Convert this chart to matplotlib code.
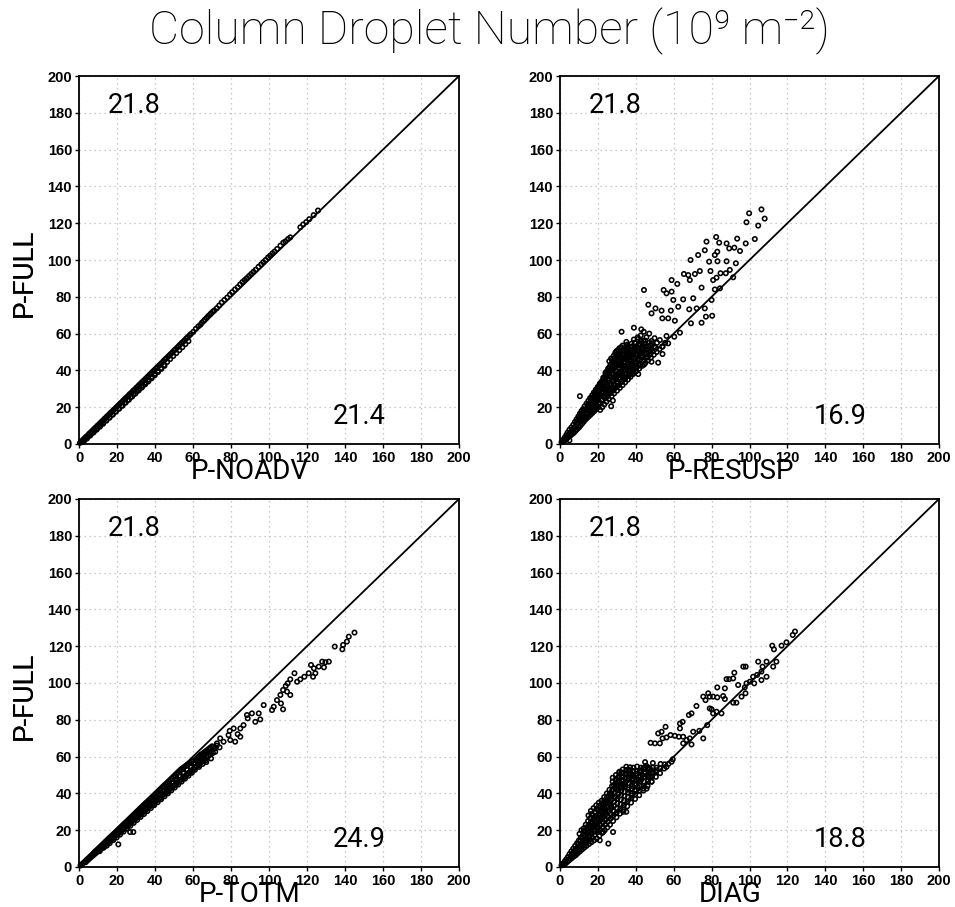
import matplotlib
matplotlib.use("Agg")
import matplotlib.pyplot as plt

# ---------------- data ----------------
title = "Column Droplet Number (10⁹ m⁻²)"
y_label = "P-FULL"
x_labels = ["P-NOADV", "P-RESUSP", "P-TOTM", "DIAG"]
full_values = ["21.8", "21.8", "21.8", "21.8"]
other_values = ["21.4", "16.9", "24.9", "18.8"]
ticks = [0, 20, 40, 60, 80, 100, 120, 140, 160, 180, 200]
diag = [0, 200]

# Panel 1: P-NOADV (x) vs P-FULL (y)
x1 = [0.5,1.3,2.1,2.8,3.6,4.5,5.2,6.0,6.9,7.6,8.4,9.3,10.0,10.9,11.7,12.4,13.3,14.1,14.8,15.7,16.5,17.2,18.1,18.9,19.6,20.5,21.3,22.0,22.9,23.7,24.4,25.3,26.1,26.8,27.7,28.5,29.2,30.1,30.9,31.6,32.5,33.3,34.0,34.9,35.7,36.4,37.3,38.1,38.8,39.7,40.5,41.2,42.1,42.9,43.6,44.5,45.3,46.0,46.9,47.7,48.4,49.3,50.1,50.8,51.7,52.5,53.2,54.1,54.9,55.6,56.5,57.3,58.1,58.9,
      1.8,3.3,4.9,6.4,8.0,9.6,11.2,12.8,14.4,16.0,17.6,19.2,20.8,22.4,24.0,25.6,27.2,28.8,30.4,32.0,33.6,35.2,36.8,38.4,40.0,41.6,43.2,44.8,46.4,48.0,49.6,51.2,52.8,54.4,56.0,57.6,
      60.2,61.5,62.8,63.9,64.7,65.6,66.3,67.2,68.0,68.9,69.5,70.4,71.2,72.5,73.8,75.1,76.5,78.0,79.4,80.6,82.1,83.5,84.8,86.0,87.2,88.3,89.5,90.6,91.8,93.0,94.5,95.9,97.0,98.2,99.5,100.6,101.8,102.9,104.3,106.0,107.5,108.6,110.0,111.2,116.5,118.0,119.6,121.2,123.5,125.8]
y1 = [0.6,1.5,2.2,3.0,3.8,4.6,5.4,6.2,7.0,7.8,8.6,9.5,10.2,11.1,11.9,12.6,13.6,14.3,15.1,15.9,16.8,17.4,18.4,19.1,19.9,20.8,21.6,22.3,23.2,24.0,24.8,25.6,26.4,27.2,28.0,28.9,29.5,30.5,31.2,32.0,32.9,33.7,34.4,35.3,36.1,36.8,37.8,38.5,39.3,40.2,41.0,41.7,42.6,43.4,44.1,45.1,45.9,46.6,47.5,48.3,49.0,50.0,50.8,51.5,52.4,53.2,54.0,54.9,55.6,56.4,57.4,58.1,59.0,59.8,
      1.2,2.6,4.1,5.5,7.0,8.5,10.0,11.6,13.1,14.6,16.2,17.7,19.3,20.8,22.4,23.9,25.5,27.1,28.7,30.2,31.8,33.3,35.0,36.5,38.2,39.8,41.3,43.0,44.6,46.2,47.8,49.4,51.0,52.6,54.3,55.9,
      61.0,62.6,63.9,64.8,65.9,66.8,67.6,68.5,69.5,70.3,71.0,71.9,72.6,73.8,75.3,76.9,78.3,79.6,81.2,82.5,84.0,85.2,86.7,88.0,89.1,90.1,91.3,92.4,93.6,94.7,96.3,97.6,98.8,100.0,101.4,102.4,103.6,104.6,106.0,107.8,109.4,110.1,111.4,112.3,117.8,119.3,120.6,122.2,124.4,126.9]
x1_extra = [2.5,4.2,5.9,7.6,9.3,11.0,12.7,14.4,16.1,17.8,19.5,21.2,22.9,24.6,26.3,28.0,29.7,31.4,33.1,34.8,36.5,38.2,39.9,41.6,43.3,45.0]
y1_extra = [1.4,3.0,4.6,6.2,7.8,9.4,11.0,12.7,14.3,15.9,17.6,19.2,20.8,22.5,24.1,25.8,27.4,29.1,30.7,32.4,34.0,35.7,37.4,39.1,40.8,42.5]

# Panel 2: P-RESUSP (x) vs P-FULL (y)
x2 = [0.8,1.5,1.9,2.5,2.8,3.3,3.5,4.0,4.2,4.6,5.0,5.3,5.6,6.0,6.2,6.6,7.0,7.2,7.5,7.9,8.1,8.4,8.8,9.0,9.3,9.7,10.0,10.2,10.5,10.8,11.0,11.4,11.6,11.8,12.2,12.4,12.6,13.0,13.2,13.4,13.6,14.0,14.2,14.4,14.6,15.0,15.2,15.4,15.6,15.9,16.2,16.4,16.6,17.0,17.2,17.4,17.6,17.9,18.2,18.4,18.6,18.9,19.2,19.4,19.6,19.9,20.2,20.4,20.6,20.9,21.2,21.4,21.6,21.8,22.0,22.3,22.5,22.7,22.9,23.1,23.4,23.6,23.8,24.0,24.2,24.5,24.7,24.9,25.1,25.3,25.4,25.7,25.9,26.1,26.3,26.5,26.7,27.0,27.2,27.4,27.6,27.8,28.0,28.2,28.4,28.6,28.8,29.0,29.2,29.4,29.6,29.8,30.1,30.3,30.5,30.7,30.9,31.1,31.3,31.6,31.8,32.0,32.2,32.4,32.6,33.0,33.2,33.4,33.6,33.8,34.0,34.4,34.6,34.8,35.0,35.2,35.4,35.8,36.0,36.2,36.4,36.6,37.2,37.4,37.6,37.8,38.0,38.6,38.8,39.0,39.2,39.4,40.2,40.4,40.6,40.8,41.0,41.8,42.0,42.2,42.4,42.6,43.4,43.6,43.8,44.0,44.2,45.0,45.2,45.4,45.6,46.5,46.7,46.9,47.1,48.0,48.2,48.4,49.5,49.7,49.9,51.0,51.2,52.5,52.7,54.0,55.5,
      8.6,9.5,10.4,11.2,12.0,12.8,13.7,14.5,14.9,15.8,16.5,16.9,17.8,18.3,18.7,19.5,19.8,20.4,20.8,21.0,21.9,22.0,22.2,23.0,23.2,23.4,24.0,24.3,24.6,24.8,25.0,25.5,25.7,26.0,26.2,26.4,26.8,27.0,27.3,27.5,27.9,28.0,28.2,28.4,28.6,28.9,29.2,29.4,29.6,29.9,30.1,30.4,30.6,30.9,31.2,31.5,31.7,32.0,32.3,32.6,32.9,33.2,33.5,33.8,34.2,34.5,34.8,35.1,35.4,35.9,36.2,36.6,36.9,37.4,37.7,38.0,38.4,38.9,39.2,39.6,40.0,40.5,40.9,41.4,41.8,42.3,42.8,43.3,44.2,44.6,45.1,46.0,46.4,47.5,47.9,49.0,50.4,
      106.3,99.8,108.0,98.4,104.6,102.8,98.0,93.5,82.4,77.3,84.0,87.9,92.0,89.3,95.0,83.0,81.7,76.4,72.9,68.9,78.7,83.1,87.9,92.8,89.6,87.5,84.7,79.4,73.8,71.2,65.4,67.7,68.5,82.6,80.8,91.4,61.9,58.9,84.4,81.7,74.7,44.3,54.7,56.2,58.9,59.8,65.0,70.3,62.4,68.2,72.1,76.4,80.0,77.0,80.3,74.7,69.1,63.3,46.6,50.4,53.6,58.5,48.3,54.0,57.1,60.6,32.5,39.0,42.9,51.8,48.3,41.3,54.1,54.1,57.1,60.3,56.2,10.5,5.0]
y2 = [1.0,2.2,1.2,3.5,2.0,4.8,2.8,6.2,3.6,5.0,7.8,4.4,6.3,9.0,5.2,7.4,10.5,6.0,8.5,12.0,7.0,9.6,13.5,8.0,11.0,15.0,9.0,12.5,16.5,10.0,14.0,18.0,11.0,15.5,19.0,12.0,17.0,20.5,13.0,15.0,18.5,22.0,14.0,16.5,20.0,23.5,15.0,18.0,21.5,25.0,16.0,19.0,23.0,26.5,17.0,20.5,24.5,28.0,18.0,22.0,26.0,29.5,19.0,23.5,27.5,31.0,20.0,25.0,29.0,32.5,18.5,22.0,26.5,30.5,34.0,20.0,24.0,28.0,32.0,35.5,21.5,26.0,30.0,33.5,37.0,23.0,27.5,31.5,35.0,38.5,41.0,24.5,29.0,33.0,37.0,40.0,43.0,20.5,26.0,30.5,34.5,38.5,42.0,45.0,48.0,27.5,32.0,36.0,40.0,44.0,47.5,50.5,29.0,33.5,37.5,41.5,45.5,49.0,52.0,30.5,35.0,39.0,43.0,47.0,50.5,32.0,36.5,40.5,44.5,48.5,52.0,33.5,38.0,42.0,46.0,50.0,54.0,35.0,39.5,43.5,47.5,51.5,36.5,41.0,45.0,49.0,53.0,38.0,42.5,46.5,50.5,55.0,39.5,44.0,48.0,52.5,57.0,41.0,45.5,50.0,54.5,59.0,42.5,47.0,52.0,56.0,61.0,44.0,48.5,53.0,58.0,45.5,50.0,55.0,60.0,47.0,51.5,56.0,48.5,53.0,57.5,50.0,55.0,51.5,56.5,53.0,55.0,
      11.2,13.0,14.5,16.2,13.6,18.4,16.8,18.4,21.6,19.8,24.6,21.4,22.6,27.0,24.0,29.2,25.6,21.8,27.0,31.0,24.0,28.2,33.0,26.2,30.4,34.6,28.6,32.4,36.4,39.6,25.8,30.6,34.8,38.6,41.8,27.6,32.0,36.2,40.4,44.6,23.6,29.0,33.8,38.0,42.4,46.4,49.6,30.6,35.0,39.4,43.6,47.4,51.0,31.8,36.0,40.6,44.8,48.6,52.6,34.0,38.2,42.6,46.6,50.4,36.0,40.0,44.2,48.2,52.2,37.4,41.6,45.6,49.6,39.0,43.2,47.4,51.4,40.4,44.6,48.6,53.0,42.0,46.0,50.2,54.6,43.6,48.0,52.4,45.2,49.6,54.6,47.0,51.6,48.6,53.4,50.6,52.4,
      127.5,125.4,122.5,120.5,118.7,111.4,109.0,111.6,112.5,110.0,109.4,109.0,106.7,106.3,104.9,104.5,102.7,105.3,102.7,100.0,99.1,99.3,99.3,98.2,94.6,92.8,92.8,94.0,94.0,92.4,92.4,91.8,89.1,90.4,89.1,90.6,87.0,89.1,84.6,84.0,85.0,83.7,83.7,81.9,82.8,78.3,78.6,79.2,74.6,73.2,73.7,73.7,78.3,69.2,69.7,65.9,65.6,60.5,75.7,73.7,72.5,72.5,71.0,68.3,68.3,67.0,61.0,63.2,62.3,44.2,44.7,38.0,48.9,52.9,54.7,58.3,58.7,26.0,2.0]
x2_extra = [15.2,16.0,16.8,17.5,18.0,18.8,19.2,20.0,20.6,21.2,21.8,22.4,22.8,23.5,24.0,24.6,25.2,25.8,26.3,26.9,27.3,27.8,28.3,28.8,29.3,29.8,30.2,30.8,31.3,31.8,32.2,32.8,33.3,33.8,34.3,34.8,35.3,35.8,36.3,36.8,37.3,37.8,38.3,38.8,39.3,39.9,40.4,41.0,41.5,42.0,42.6,43.2,43.8,44.4,45.0,45.8,46.5,47.5,48.5,27.0,29.0,31.0,33.0,35.0,37.0,39.0,41.0,43.0,20.0,22.0,24.0,26.0,28.0,30.0,32.0,34.0,36.0,38.0,40.0]
y2_extra = [20.0,22.6,18.2,25.4,21.0,27.8,24.8,30.2,22.6,33.0,27.8,31.4,36.0,25.2,38.8,29.6,35.6,27.4,42.0,32.8,38.0,46.0,30.0,42.8,36.6,48.6,31.4,45.2,38.8,50.0,33.8,46.4,41.6,51.2,35.2,46.8,40.8,52.8,37.0,49.8,43.0,54.6,38.6,47.0,52.2,41.0,49.0,45.4,53.6,42.6,56.0,47.4,51.2,43.2,56.2,49.2,53.2,50.6,54.8,46.5,44.0,47.5,53.5,55.5,46.2,56.8,58.0,50.5,29.0,33.0,37.5,45.0,40.5,43.0,44.5,47.0,49.0,51.0,44.8]

# Panel 3: P-TOTM (x) vs P-FULL (y)
x3 = [0.8,1.6,2.4,3.2,3.5,4.0,4.5,4.8,5.4,5.6,6.3,6.4,7.2,7.2,8.0,8.1,8.8,9.0,9.6,9.9,10.4,10.8,10.9,11.2,11.7,12.0,12.5,12.8,13.0,13.3,13.6,14.2,14.4,14.6,15.1,15.2,16.0,16.0,16.2,16.8,16.9,17.6,17.8,18.0,18.4,18.7,19.2,19.6,19.8,20.0,20.5,20.8,21.4,21.6,21.6,22.3,22.4,23.2,23.2,23.4,24.0,24.1,24.8,25.0,25.2,25.6,25.9,26.4,26.8,27.0,27.2,27.7,28.0,28.6,28.8,28.8,29.5,29.6,30.4,30.4,30.6,31.2,31.3,32.0,32.2,32.4,32.8,33.1,33.6,34.0,34.2,34.4,34.9,35.2,35.8,36.0,36.0,36.7,36.8,37.6,37.6,37.8,38.4,38.5,39.2,39.4,39.6,40.0,40.3,40.8,41.2,41.4,41.6,42.1,42.4,43.0,43.2,43.2,43.9,44.0,44.8,44.8,45.0,45.6,45.7,46.4,46.6,46.8,47.2,47.5,48.0,48.4,48.6,48.8,49.3,49.6,50.2,50.4,50.4,51.1,51.2,52.0,52.0,52.2,52.8,52.9,53.6,53.8,54.0,54.4,54.7,55.2,55.6,55.8,56.0,56.5,56.8,57.4,57.6,57.6,58.3,58.4,59.2,59.2,59.4,60.0,60.1,61.0,61.0,61.6,61.9,62.4,62.8,63.2,63.2,63.7,64.0,64.6,65.0,65.0,65.5,66.0,66.4,67.0,67.3,67.0,68.0,68.2,69.0,69.1,70.0,
      10.0,12.2,14.0,15.8,17.5,19.3,21.0,22.8,24.5,26.2,28.0,29.8,31.6,33.4,35.2,37.0,38.8,40.6,42.4,44.2,46.0,47.8,49.6,51.4,53.2,55.0,56.8,58.6,60.4,62.2,64.0,65.8,67.6,31.0,35.0,39.0,43.0,47.0,51.0,55.0,59.0,63.0,66.5,69.5,70.5,71.5,72.5,74.0,
      145.0,142.0,141.0,139.0,138.6,134.6,131.5,129.7,128.0,128.9,126.2,122.1,123.6,124.4,123.2,120.9,118.6,116.5,114.8,113.4,111.2,109.8,108.8,107.4,109.5,111.2,106.0,104.2,106.3,107.4,101.6,102.5,97.2,94.6,91.0,88.4,88.8,92.8,95.4,86.6,84.9,81.4,79.3,78.7,83.5,84.9,82.2,79.6,76.1,74.3,72.6,70.8,69.1,71.7,67.3,64.7,20.7,26.9,28.6]
y3 = [0.8,1.5,2.3,3.0,2.6,3.9,3.6,4.6,4.5,5.4,5.3,6.2,6.1,7.0,7.9,6.9,8.7,7.7,9.4,8.5,10.2,9.2,8.6,11.0,10.0,11.8,10.8,12.6,10.5,11.6,13.4,12.4,14.2,11.6,13.2,15.0,14.0,15.8,13.0,16.5,14.8,17.3,15.6,14.6,18.1,16.4,18.9,17.2,16.0,19.7,18.0,20.5,18.8,21.3,17.6,19.6,22.1,20.4,22.9,19.2,23.7,21.2,24.4,22.0,20.8,25.2,22.8,26.0,23.6,22.4,26.8,24.4,27.6,25.2,24.0,28.4,26.0,29.2,26.8,30.0,25.6,30.8,27.6,31.6,28.4,27.2,32.4,29.2,33.2,30.0,28.8,34.0,30.8,34.8,31.6,35.5,30.4,32.4,36.3,33.2,37.1,32.0,37.9,34.0,38.7,34.8,33.6,39.5,35.6,40.3,36.4,35.2,41.1,37.2,41.9,38.0,36.8,42.7,38.8,43.5,44.3,39.6,38.4,45.0,40.4,45.8,41.2,40.0,46.6,42.0,47.4,42.8,41.6,48.2,43.6,49.0,44.4,43.2,49.8,45.2,50.6,51.4,46.0,44.8,52.2,46.8,53.0,47.6,46.4,53.6,48.4,54.2,49.2,48.0,54.8,50.0,55.4,50.8,49.6,56.0,51.6,56.6,57.2,52.4,51.2,57.8,53.2,54.0,52.8,58.6,54.8,59.4,55.6,54.4,60.2,56.4,61.0,57.2,56.0,61.6,58.0,62.4,58.8,63.2,59.6,57.0,64.0,60.4,64.8,61.2,65.6,
      9.6,11.3,13.0,14.6,16.0,17.8,19.4,21.0,22.6,24.2,25.8,27.4,29.2,30.8,32.4,34.0,35.8,37.6,39.4,41.0,42.6,44.4,46.2,47.8,49.6,51.4,53.0,54.6,56.2,57.8,59.4,60.8,62.2,28.0,31.0,34.2,37.6,41.0,44.6,48.6,52.0,55.2,57.8,59.0,62.0,64.5,66.0,65.0,
      127.4,125.2,122.5,120.7,118.3,119.8,111.6,111.3,111.6,108.5,108.9,109.8,108.0,105.3,103.4,105.3,103.4,102.0,100.7,105.3,102.0,99.8,98.4,96.2,95.3,93.5,93.5,90.7,88.9,85.7,85.3,87.1,88.0,83.5,83.5,82.6,80.8,78.9,80.2,77.1,75.3,75.3,74.0,71.7,72.2,70.8,68.1,69.0,68.1,69.9,67.2,65.3,64.4,62.6,62.6,60.8,12.3,19.0,19.0]
x3_extra = [15.0,19.0,23.0,27.0,31.0,35.0,39.0,43.0,47.0,51.0,55.0,59.0,63.0,67.0,21.0,25.0,29.0,33.0,37.0,41.0,45.0,49.0,53.0,57.0,61.0,65.0]
y3_extra = [13.8,17.4,21.0,24.6,28.8,32.2,36.0,39.6,43.2,46.8,50.8,54.2,57.6,60.2,19.6,23.2,27.0,30.2,34.6,38.2,41.8,45.4,49.0,52.8,56.4,59.0]

# Panel 4: DIAG (x) vs P-FULL (y)
x4 = [0.8,1.5,2.0,2.5,3.0,3.3,3.8,4.2,4.6,5.0,5.4,5.8,6.0,6.4,6.8,7.0,7.4,7.8,8.0,8.4,8.8,9.0,9.4,9.8,10.0,10.3,10.5,10.8,11.0,11.3,11.6,11.9,12.2,12.5,12.8,13.0,13.3,13.6,14.0,14.2,14.5,14.8,15.0,15.3,15.5,15.8,16.0,16.3,16.6,16.8,17.1,17.4,17.7,18.0,18.2,18.5,18.8,19.1,19.4,19.6,19.9,20.2,20.5,20.8,21.0,21.3,21.6,21.9,22.2,22.4,22.7,23.0,23.3,23.6,23.8,24.1,24.4,24.7,25.0,25.2,25.5,25.8,26.1,26.4,26.6,26.9,27.2,27.5,27.8,28.0,28.3,28.6,28.9,29.2,29.5,29.8,30.0,30.3,30.6,30.9,31.2,31.6,31.9,32.2,32.5,32.8,33.1,33.5,33.8,34.1,34.4,34.7,35.0,35.5,35.8,36.1,36.4,36.7,37.5,37.8,38.1,38.4,38.7,39.6,39.9,40.2,40.5,41.8,42.1,42.4,42.7,44.0,44.3,44.6,44.9,46.2,46.5,46.8,48.4,48.7,49.0,50.6,50.9,52.8,53.1,55.0,57.2,59.5,
      6.6,7.6,8.2,9.1,9.6,10.4,10.9,11.7,12.0,12.4,12.9,13.4,13.8,14.3,14.6,15.0,15.6,15.9,16.3,16.6,17.0,17.3,17.6,18.3,18.6,18.9,19.2,19.7,20.0,20.3,20.6,21.1,21.4,21.7,22.0,22.5,22.8,23.1,23.4,23.9,24.2,24.5,24.8,25.3,25.6,25.9,26.2,26.6,26.9,27.2,27.5,27.8,28.2,28.5,28.8,29.1,29.4,29.9,30.2,30.5,30.8,31.1,31.5,31.8,32.1,32.4,32.7,33.0,33.7,34.0,34.3,34.6,35.0,35.6,35.9,36.3,36.6,37.0,37.7,38.0,38.3,38.6,39.7,40.0,40.3,40.7,41.9,42.2,42.6,44.1,44.4,44.8,46.3,46.7,48.5,48.9,50.7,52.9,55.2,
      124.0,122.8,119.5,116.9,112.0,112.9,114.2,112.5,109.0,104.6,106.9,106.3,109.0,106.3,101.9,104.0,100.2,98.4,102.5,97.5,97.9,95.8,93.1,91.4,96.7,98.0,92.0,91.4,94.0,87.9,89.3,83.0,87.0,78.2,79.0,80.8,83.0,86.1,87.0,75.6,76.8,80.0,82.6,85.2,80.8,79.0,72.0,68.0,69.4,63.3,64.7,77.7,75.6,73.5,70.3,68.5,63.3,55.7,53.6,51.8,54.1,56.2,58.3,60.6,62.7,65.0,66.8,69.4,65.0,47.8,50.1,52.7,48.3,45.7,44.0,39.5,37.8,47.5,51.0,56.2,58.9,25.5,28.0,22.8,35.0,33.4,21.0]
y4 = [0.9,1.8,1.2,3.0,2.0,4.2,2.8,5.5,3.5,7.0,4.2,6.0,8.5,5.0,7.5,10.0,5.8,8.8,11.5,6.5,10.0,13.0,7.5,11.0,14.5,18.0,8.5,12.5,16.0,20.0,9.5,13.5,17.5,21.0,10.5,14.5,19.0,23.0,11.5,15.5,20.5,25.0,28.0,12.5,17.0,22.0,26.5,30.5,13.5,18.5,23.5,28.0,32.0,14.5,20.0,25.0,29.5,33.5,15.5,21.5,26.5,31.0,35.0,17.0,23.0,28.0,32.5,36.0,18.5,24.5,29.5,34.0,38.0,20.0,26.0,31.0,35.5,40.0,21.5,27.5,32.5,37.0,42.0,23.0,29.0,34.0,39.0,44.0,48.5,25.0,30.5,35.5,40.5,45.5,50.0,27.0,32.0,37.0,42.0,47.0,51.5,29.0,34.0,39.0,44.0,49.0,53.0,31.0,36.0,41.0,46.0,51.0,54.5,33.0,38.0,43.0,48.0,52.5,35.0,40.0,45.0,50.0,54.0,37.0,42.0,47.0,52.0,39.0,44.0,49.0,54.0,41.5,46.5,51.5,57.0,44.0,49.0,54.0,46.5,51.5,56.5,49.0,54.0,51.0,56.0,53.5,56.0,58.5,
      6.8,7.4,9.4,8.6,12.4,10.4,14.4,11.6,15.6,19.2,12.6,16.8,21.2,13.6,18.2,22.6,14.8,19.6,24.4,28.8,16.0,21.2,26.0,17.4,22.6,27.4,31.6,18.8,24.0,28.8,33.2,20.2,25.4,30.2,34.4,21.6,27.0,31.8,36.2,23.0,28.6,33.4,38.0,24.6,30.2,35.0,39.8,26.2,31.8,36.6,41.6,46.4,28.0,33.2,38.2,43.2,47.8,29.6,34.6,39.6,44.6,49.4,51.8,31.8,36.6,41.6,46.6,51.0,33.6,38.6,43.6,48.6,52.8,35.6,40.6,45.6,50.4,54.2,37.6,42.6,47.6,52.2,39.6,44.6,49.6,54.6,41.6,46.6,51.6,44.0,49.0,54.2,46.6,51.6,49.0,54.0,51.6,53.6,55.8,
      128.0,126.1,122.1,120.3,120.3,118.3,111.6,108.9,111.6,111.6,108.9,106.2,103.4,101.6,103.4,104.4,100.7,99.8,99.8,97.6,94.4,92.6,89.3,89.3,108.9,108.9,105.6,102.5,98.9,102.1,102.1,97.6,97.1,94.4,92.6,92.6,92.2,92.9,91.3,92.6,90.7,85.7,84.4,83.5,83.5,86.2,87.5,82.6,83.5,78.0,78.9,77.1,69.9,74.0,73.5,69.9,75.3,76.2,73.5,72.6,69.9,70.4,71.7,71.3,70.8,70.8,69.0,66.6,67.2,67.5,67.2,67.2,46.3,42.6,42.6,41.4,39.0,49.0,52.6,54.4,57.2,12.7,19.0,19.0,30.0,30.0,14.5]
x4_extra = [12.0,13.0,14.0,15.0,16.0,17.0,18.0,19.0,20.0,21.0,22.0,23.0,24.0,25.0,26.0,27.0,28.0,29.0,30.0,31.0,32.0,33.0,34.0,35.0,36.0,37.0,38.0,39.0,40.0,41.0,42.0,43.0,44.0,45.0,46.0,47.0,48.0,15.5,17.5,19.5,21.5,23.5,25.5,27.5,29.5,31.5,33.5,35.5,37.5,39.5,41.5,43.5,45.5,47.5,20.5,22.5,24.5,26.5,28.5,30.5,32.5,34.5,36.5,38.5]
y4_extra = [12.0,17.8,15.0,21.4,18.4,24.6,22.2,27.8,19.8,30.4,26.2,33.4,29.8,36.4,34.8,33.0,42.0,37.6,45.0,40.0,43.0,47.4,45.2,50.2,42.0,51.6,44.0,49.0,50.6,43.5,52.5,47.6,53.8,51.0,49.6,53.2,52.8,16.2,19.6,23.0,27.0,31.2,35.0,38.8,42.2,46.0,44.4,47.0,49.2,45.2,47.2,50.0,55.0,50.6,28.6,32.2,35.8,39.8,44.4,48.6,51.4,50.2,52.6,48.0]

xs = [x1 + x1_extra, x2 + x2_extra, x3 + x3_extra, x4 + x4_extra]
ys = [y1 + y1_extra, y2 + y2_extra, y3 + y3_extra, y4 + y4_extra]

# ---------------- figure ----------------
W, H = 955, 907
fig = plt.figure(figsize=(W / 100, H / 100), dpi=100)
thin = ["Roboto", "DejaVu Sans"]
bold = ["Liberation Sans", "DejaVu Sans"]

# axes boxes in pixels: (left, top, right, bottom)
boxes = [(79, 76, 459, 444), (560, 76, 939, 444),
         (79, 499, 459, 867), (560, 499, 939, 867)]

for i, (l, t, r, b) in enumerate(boxes):
    ax = fig.add_axes([l / W, 1 - b / H, (r - l) / W, (b - t) / H])
    ax.set_xlim(0, 200)
    ax.set_ylim(0, 200)
    ax.set_xticks(ticks)
    ax.set_yticks(ticks)
    ax.grid(True, color="#b8b8b8", linestyle=(0, (1, 3)), linewidth=0.9)
    ax.set_axisbelow(True)
    for sp in ax.spines.values():
        sp.set_color("black")
        sp.set_linewidth(1.3)
    ax.tick_params(direction="out", length=3, width=1, pad=2)
    for lab in ax.get_xticklabels() + ax.get_yticklabels():
        lab.set_fontfamily(bold)
        lab.set_fontweight("bold")
        lab.set_fontsize(10.5)
    ax.plot(diag, diag, color="black", linewidth=1.3, zorder=2)
    ax.scatter(xs[i], ys[i], s=10, facecolors="none", edgecolors="black",
               linewidths=1.15, zorder=3, clip_on=False)
    ax.text(0.45, -0.076, x_labels[i], transform=ax.transAxes, ha="center",
            va="center", fontsize=20, family=thin, color="black")
    ax.text(-(l - 24) / (r - l), 0.465, y_label, transform=ax.transAxes,
            ha="center", va="center", rotation=90, fontsize=20, family=thin,
            color="black")
    ax.text(15.3, 184, full_values[i], ha="left", va="center",
            fontsize=19.5, family=thin, color="black")
    ax.text(133.7, 15, other_values[i], ha="left", va="center",
            fontsize=19.5, family=thin, color="black")

fig.text(489 / W, 1 - 31 / H, title, ha="center", va="center",
         fontsize=33.5, family=thin, fontweight="light", color="black")

fig.savefig("out.png", dpi=100)
